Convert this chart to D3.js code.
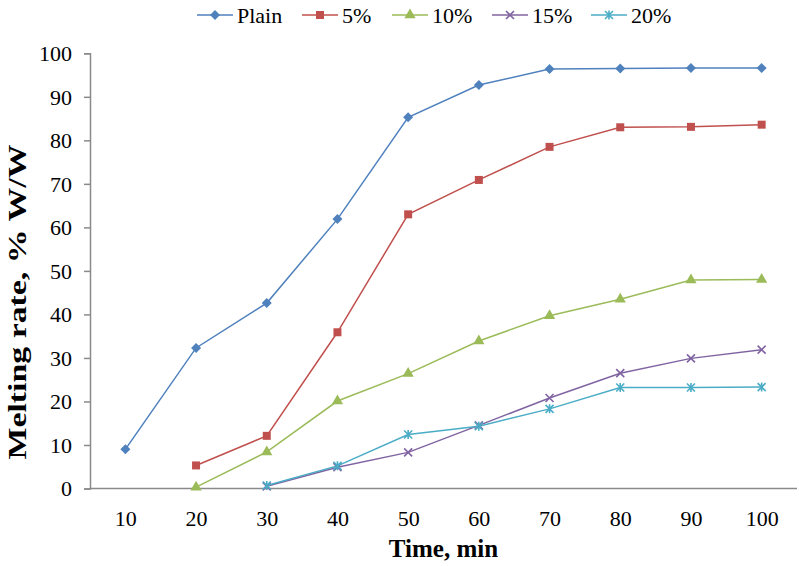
<!DOCTYPE html>
<html>
<head>
<meta charset="utf-8">
<script src="https://cdn.jsdelivr.net/npm/d3@7"></script>
<style>
  body { margin: 0; background: #fff; }
  svg { display: block; }
  text { font-family: "Times New Roman", Times, "Liberation Serif", serif; fill: #000; }
</style>
</head>
<body>
<svg id="chart" width="799" height="566"></svg>
<script>
// ---- data ----
const categories = [10, 20, 30, 40, 50, 60, 70, 80, 90, 100];
const seriesNames = ["Plain", "5%", "10%", "15%", "20%"];
const plain  = [9.0, 32.3, 42.6, 61.9, 85.3, 92.7, 96.4, 96.5, 96.6, 96.6];
const pct5   = [null, 5.3, 12.1, 35.9, 63.0, 70.9, 78.5, 83.0, 83.1, 83.6];
const pct10  = [null, 0.3, 8.4, 20.1, 26.4, 33.9, 39.7, 43.5, 47.9, 48.0];
const pct15  = [null, null, 0.5, 4.9, 8.3, 14.5, 20.8, 26.5, 29.9, 31.9];
const pct20  = [null, null, 0.7, 5.2, 12.4, 14.3, 18.3, 23.2, 23.2, 23.3];
const yTicks = [0, 10, 20, 30, 40, 50, 60, 70, 80, 90, 100];
const colors = ["#4F81BD", "#C0504D", "#9BBB59", "#8064A2", "#4BACC6"];
const markers = ["diamond", "square", "triangle", "x", "star"];

const seriesValues = [plain, pct5, pct10, pct15, pct20];

const svg = d3.select("#chart");
const x = d3.scalePoint().domain(categories).range([90, 797]).padding(0.5);
const y = d3.scaleLinear().domain([0, 100]).range([488.5, 53.3]);
const axisColor = "#8a8a8a";
const serif = '"Times New Roman", Times, "Liberation Serif", serif';

// y axis
const yAxis = d3.axisLeft(y).tickValues(yTicks).tickSize(6).tickPadding(12).tickFormat(d3.format("d"));
const gy = svg.append("g").attr("transform", "translate(90,0)").call(yAxis).attr("font-family", serif);
gy.select(".domain").attr("stroke", axisColor).attr("stroke-width", 1.5);
gy.selectAll(".tick line").attr("stroke", axisColor).attr("stroke-width", 1.5);
gy.selectAll(".tick text").attr("font-size", 22).attr("fill", "#000").attr("dy", "0.34em");

// x axis
const xAxis = d3.axisBottom(x).tickSize(0).tickPadding(22).tickSizeOuter(0);
const gx = svg.append("g").attr("transform", "translate(0,488.5)").call(xAxis).attr("font-family", serif);
gx.select(".domain").attr("stroke", axisColor).attr("stroke-width", 1.5).attr("d", "M90,0H797");
gx.selectAll(".tick text").attr("font-size", 22).attr("fill", "#000").attr("dy", "0.71em");

// axis titles
svg.append("text").attr("x", 443.5).attr("y", 557).attr("text-anchor", "middle")
  .attr("font-size", 25).attr("font-weight", "bold").text("Time, min");
svg.append("text").attr("transform", "translate(26,302) rotate(-90)").attr("text-anchor", "middle")
  .attr("font-size", 25).attr("font-weight", "bold")
  .attr("textLength", 315).attr("lengthAdjust", "spacingAndGlyphs")
  .text("Melting rate, % W/W");

function drawMarker(g, type, color) {
  if (type === "diamond") {
    g.append("path").attr("d", "M0,-5L5,0L0,5L-5,0Z").attr("fill", color);
  } else if (type === "square") {
    g.append("path").attr("d", d3.symbol(d3.symbolSquare, 64)()).attr("fill", color);
  } else if (type === "triangle") {
    g.append("path").attr("d", d3.symbol(d3.symbolTriangle, 55)()).attr("fill", color);
  } else if (type === "x") {
    g.append("path").attr("d", "M-4,-4L4,4M-4,4L4,-4").attr("stroke", color).attr("stroke-width", 1.6).attr("fill", "none");
  } else if (type === "star") {
    g.append("path").attr("d", "M-4,-4L4,4M-4,4L4,-4M0,-4.5L0,4.5").attr("stroke", color).attr("stroke-width", 1.6).attr("fill", "none");
  }
}

const line = d3.line()
  .defined(d => d.v !== null)
  .x(d => x(d.c))
  .y(d => y(d.v));

seriesValues.forEach((vals, i) => {
  const data = categories.map((c, j) => ({ c, v: vals[j] }));
  svg.append("path").datum(data).attr("d", line)
    .attr("fill", "none").attr("stroke", colors[i]).attr("stroke-width", 1.5);
  data.filter(d => d.v !== null).forEach(d => {
    const g = svg.append("g").attr("transform", `translate(${x(d.c)},${y(d.v)})`);
    drawMarker(g, markers[i], colors[i]);
  });
});

// legend
const legendX = [197, 302, 392, 492, 591];
seriesNames.forEach((name, i) => {
  const g = svg.append("g").attr("transform", `translate(${legendX[i]},15)`);
  g.append("line").attr("x1", 0).attr("x2", 36).attr("y1", 0).attr("y2", 0)
    .attr("stroke", colors[i]).attr("stroke-width", 1.5);
  drawMarker(g.append("g").attr("transform", "translate(18,0)"), markers[i], colors[i]);
  g.append("text").attr("x", 40).attr("y", 8).attr("font-size", 22).text(name);
});
</script>
</body>
</html>
